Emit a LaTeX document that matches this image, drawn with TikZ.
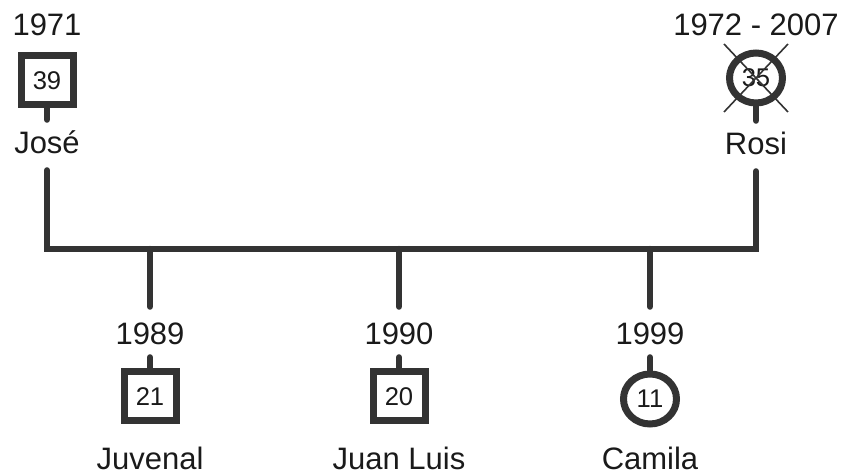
\documentclass[tikz,border=0pt]{standalone}
\usepackage{fontspec}
\setmainfont{Liberation Sans}
\usetikzlibrary{shapes.geometric}
\definecolor{linea}{HTML}{333333}
\definecolor{testo}{HTML}{1A1A1A}
\begin{document}
\begin{tikzpicture}[x=0.5pt, y=-0.5pt,
    maschio/.style={draw=linea, line width=3.5pt, fill=white, minimum width=26pt, minimum height=24.5pt, inner sep=0pt, font=\fontsize{12.8}{14}\selectfont, text=testo},
    femmina/.style={maschio, ellipse, minimum width=26.5pt, minimum height=25pt},
    nome/.style={anchor=base, inner sep=0pt, text height=17pt, text depth=8pt, font=\fontsize{15.5}{18}\selectfont, text=testo},
    anno/.style={nome, text height=19pt, text depth=6pt},
    legame/.style={draw=linea, line width=3.2pt, line cap=round}]
    \useasboundingbox (0,0) rectangle (848,475);

    % Genitori
    \node[anno] (aJose) at (47,36) {1971};
    \node[maschio] (pJose) at (47,80.5) {39};
    \node[nome] (nJose) at (47,154) {José};
    \node[anno] (aRosi) at (756,36) {1972 - 2007};
    \node[femmina] (pRosi) at (756,78) {35};
    \node[nome] (nRosi) at (756,155) {Rosi};
    \draw[linea, line width=0.8pt] (pRosi.center) +(-32,-34) -- +(32,34);
    \draw[linea, line width=0.8pt] (pRosi.center) +(32,-34) -- +(-32,34);
    \draw[legame] (pJose.south) -- (nJose.north);
    \draw[legame] (pRosi.south) -- (nRosi.north);

    % Linea di unione
    \coordinate (barra) at (0,249);
    \draw[legame] (nJose.south) -- (nJose.south |- barra) -- (nRosi.south |- barra) -- (nRosi.south);

    % Figli
    \node[anno] (aJuvenal) at (150,345) {1989};
    \node[maschio] (pJuvenal) at (150,396.5) {21};
    \node[nome] (nJuvenal) at (150,470) {Juvenal};
    \node[anno] (aJuan) at (399,345) {1990};
    \node[maschio] (pJuan) at (399,396.5) {20};
    \node[nome] (nJuan) at (399,470) {Juan Luis};
    \node[anno] (aCamila) at (650,345) {1999};
    \node[femmina] (pCamila) at (650,399) {11};
    \node[nome] (nCamila) at (650,470) {Camila};
    \foreach \f in {Juvenal, Juan, Camila} {
        \draw[legame] (a\f.north |- barra) -- (a\f.north);
        \draw[legame] (a\f.south) -- (p\f.north);
    }
\end{tikzpicture}
\end{document}
